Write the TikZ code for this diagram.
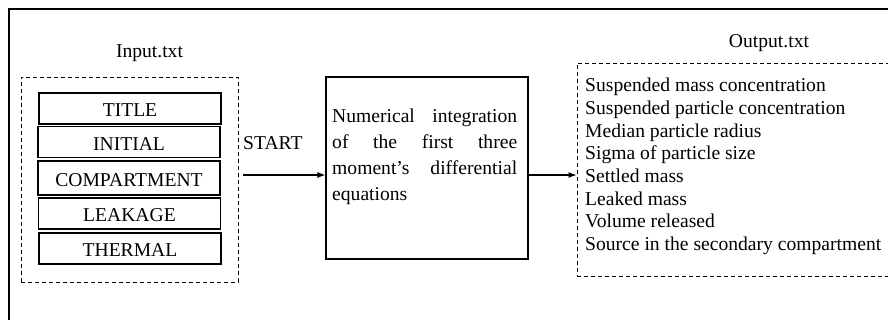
\documentclass[tikz,border=0pt]{standalone}
\usepackage{fontspec}
\setmainfont{Liberation Serif}
\usetikzlibrary{arrows.meta}
\begin{document}
\begin{tikzpicture}[x=1pt,y=-1pt,
    every node/.style={font=\fontsize{19.6}{22.7}\selectfont, inner sep=0pt},
    card/.style={draw, line width=1.1pt, minimum width=182pt, minimum height=31pt,
      text height=17pt, text depth=0pt},
    filebox/.style={draw, dash pattern=on 4pt off 3pt, line width=0.9pt},
    flow/.style={-{Latex[length=8pt,width=6pt]}, line width=1.1pt}]
      \useasboundingbox (0,0) rectangle (888,320);
      \clip (0,0) rectangle (888,320);
      \draw[line width=1.2pt] (9,330) -- (9,9) -- (900,9);
      % input file
      \node (inputname) [anchor=base] at (149.5,58) {Input.txt};
      \node[filebox, minimum width=217pt, minimum height=205pt] (inputfile) at (129.5,179.5) {};
      \node[card] (title) at (130,108.5) {TITLE};
      \node[card] (initial) at (129,142) {INITIAL};
      \node[card, minimum height=34pt, text height=18pt] (compartment) at (129,178) {COMPARTMENT};
      \node[card] (leakage) at (129.5,213.5) {LEAKAGE};
      \node[card] (thermal) at (130,248.5) {THERMAL};
      % solver
      \node[draw, line width=1.1pt, minimum width=202pt, minimum height=182pt] (solver) at (427,168) {};
      \node[anchor=north west, text width=185pt, align=justify,
        font=\fontsize{19.6}{26}\selectfont] (solvertext) at (332,108.5)
        {Numerical integration\linebreak of the first three\linebreak moment's differential\linebreak equations};
      \node (startlabel) [anchor=base west] at (243,150) {START};
      \coordinate (inlet) at (243,175);
      % output file
      \node (outputname) [anchor=base] at (769,48) {Output.txt};
      \node[filebox, minimum width=323pt, minimum height=213pt] (outputfile) at (738.5,169.5) {};
      \node[anchor=north west, align=left] (results) at (585,78)
        {Suspended mass concentration\\
         Suspended particle concentration\\
         Median particle radius\\
         Sigma of particle size\\
         Settled mass\\
         Leaked mass\\
         Volume released\\
         Source in the secondary compartment};
      \draw[flow] (inlet) -- (inlet -| solver.west);
      \draw[flow] (solver.east |- inlet) -- (inlet -| outputfile.west);
    \end{tikzpicture}
\end{document}
